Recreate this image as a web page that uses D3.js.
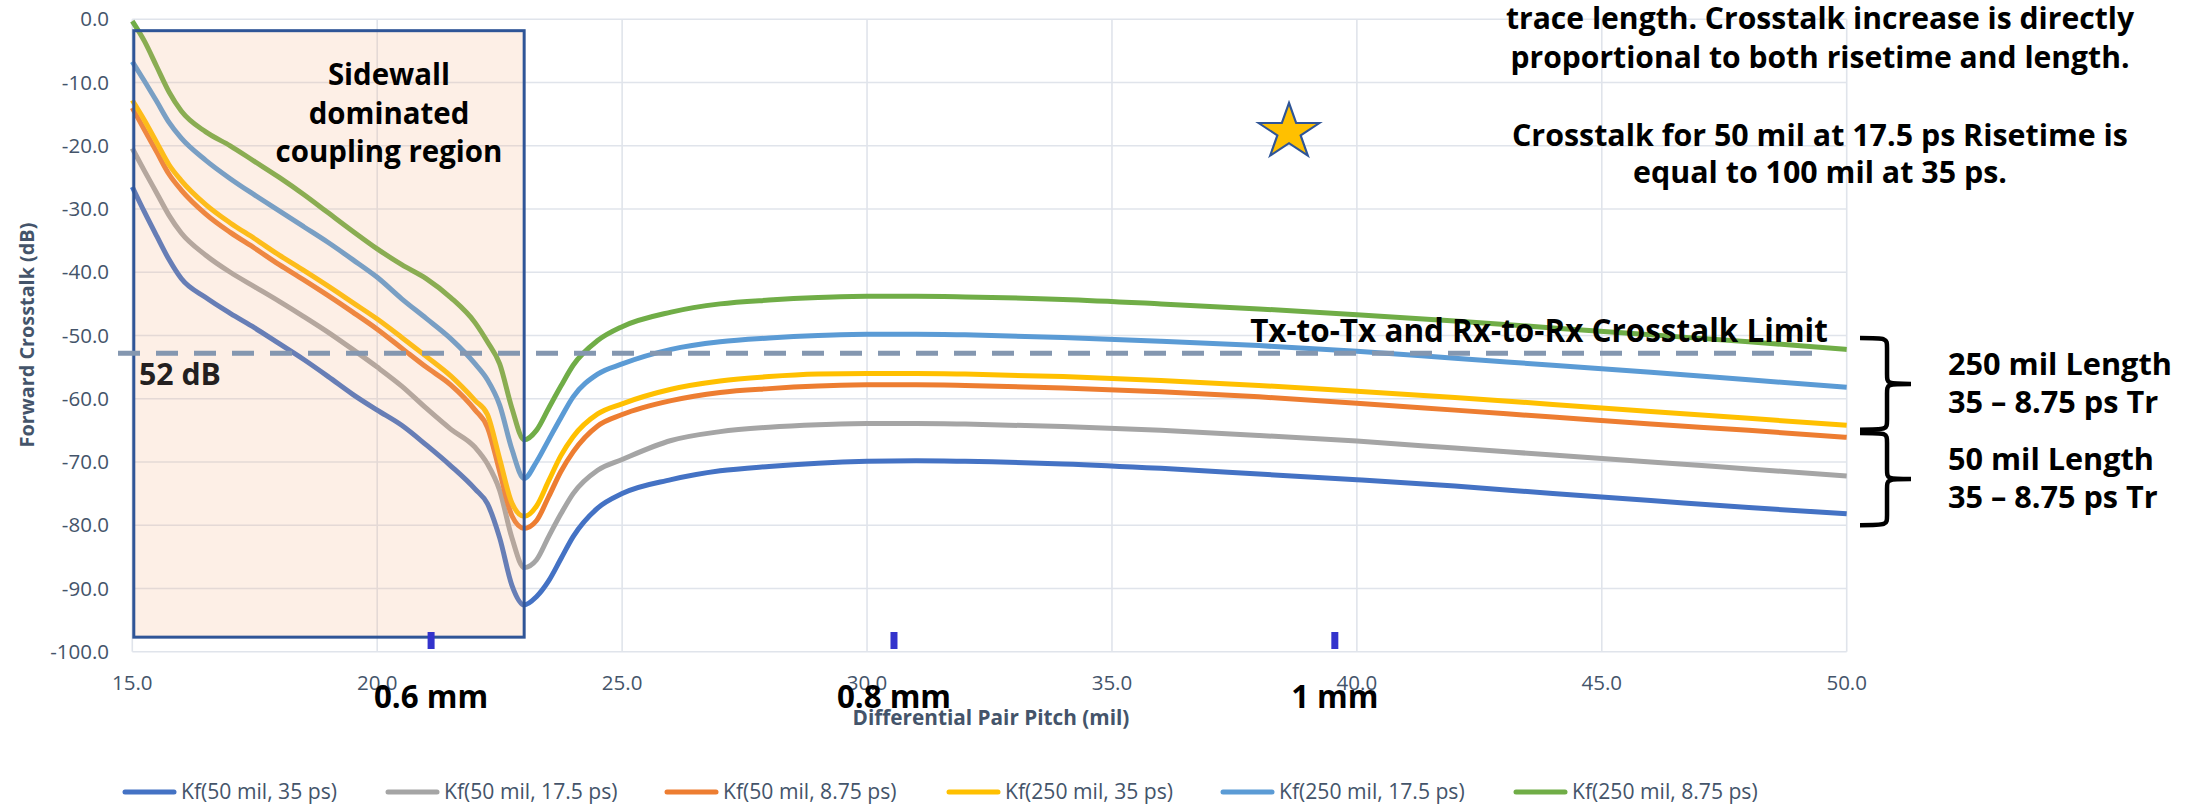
<!DOCTYPE html>
<html><head><meta charset="utf-8">
<script src="https://cdn.jsdelivr.net/npm/d3@7"></script>
<style>body{margin:0;background:#fff}svg{display:block}</style>
</head><body>
<script>
const pitch = [15,15.25,15.5,15.75,16,16.5,17,17.5,18,18.5,19,19.5,20,20.5,21,21.5,22,22.25,22.5,22.75,23,
  23.25,23.5,23.75,24,24.5,25,26,27,28,29,30,31,32,34,36,38,40,42,44,46,48,50];
const kf50_35 = [-26.5,-30.5,-34.3,-38,-41,-44,-46.5,-48.8,-51.3,-53.8,-56.5,-59.3,-61.8,-64.2,-67.3,-70.6,-74.3,-76.6,-82,-89.5,-92.6,
  -91.3,-88.8,-85.3,-81.8,-77.3,-75.0,-72.8,-71.4,-70.7,-70.2,-69.9,-69.8,-69.9,-70.3,-71.0,-71.9,-72.8,-73.8,-75.0,-76.1,-77.2,-78.2];
const kf50_17 = [-20.4,-24,-27.5,-31,-33.8,-37.3,-40,-42.3,-44.6,-47,-49.5,-52.2,-55,-58,-61.5,-64.8,-67.7,-70.3,-74.5,-82,-86.7,
  -85.5,-81.8,-78.2,-75,-71.3,-69.6,-66.6,-65.2,-64.5,-64.1,-63.9,-63.9,-64.0,-64.4,-65.0,-65.8,-66.7,-67.8,-68.9,-70.0,-71.1,-72.2];
const kf50_8 = [-14,-17.5,-21,-24.5,-27,-30.8,-33.7,-36.2,-38.8,-41.2,-43.7,-46.3,-49,-52,-55,-57.8,-61.8,-64.5,-71.5,-78.5,-80.5,
  -79.3,-75.5,-71.5,-68.4,-64.3,-62.5,-60.3,-59.0,-58.4,-58.0,-57.8,-57.8,-57.9,-58.3,-58.9,-59.7,-60.7,-61.8,-62.9,-64.0,-65.0,-66.1];
const kf250_35 = [-12.8,-16,-19.5,-23,-25.5,-29.3,-32.2,-34.7,-37.3,-39.7,-42.2,-44.8,-47.4,-50.3,-53.3,-56.4,-60.3,-62.5,-69.5,-76.5,-78.6,
  -77,-73,-69,-66,-62.4,-60.8,-58.5,-57.2,-56.5,-56.1,-56.0,-56.0,-56.1,-56.5,-57.1,-57.9,-58.8,-59.8,-60.9,-62.0,-63.1,-64.2];
const kf250_17 = [-6.7,-9.8,-13,-16.3,-18.8,-22.3,-25.2,-27.8,-30.3,-32.8,-35.3,-38,-40.8,-44.2,-47.3,-50.5,-54.5,-57,-61,-68,-72.6,
  -70,-66.5,-63,-59.7,-56.1,-54.5,-52.2,-51.0,-50.4,-50.0,-49.8,-49.8,-49.9,-50.3,-50.9,-51.6,-52.5,-53.6,-54.7,-55.8,-57.0,-58.2];
const kf250_8 = [-0.3,-3.5,-7.5,-11.5,-14.5,-17.8,-20,-22.5,-25,-27.7,-30.6,-33.5,-36.3,-38.8,-41,-44,-48,-51,-54.5,-61.5,-66.5,
  -65,-61.5,-58,-54.7,-50.8,-48.6,-46.3,-45.0,-44.4,-44.0,-43.8,-43.8,-43.9,-44.3,-45.0,-45.8,-46.7,-47.7,-48.8,-49.9,-51.0,-52.2];
const seriesNames = ["Kf(50 mil, 35 ps)","Kf(50 mil, 17.5 ps)","Kf(50 mil, 8.75 ps)","Kf(250 mil, 35 ps)","Kf(250 mil, 17.5 ps)","Kf(250 mil, 8.75 ps)"];
const seriesColors = ["#4472C4","#A5A5A5","#ED7D31","#FFC000","#5B9BD5","#70AD47"];
const xTicks = [15,20,25,30,35,40,45,50];
const yTicks = [0,-10,-20,-30,-40,-50,-60,-70,-80,-90,-100];
const limitDb = -52.8;
const regionX = [15, 23.0];
const regionY = [-1.8, -97.7];
const mmMarks = [21.1, 30.55, 39.55];
const mmLabels = ["0.6 mm","0.8 mm","1 mm"];
const braces = [[-50.4,-64.9],[-65.4,-80.0]];
const braceLabels = [["250 mil Length","35 \u2013 8.75 ps Tr"],["50 mil Length","35 \u2013 8.75 ps Tr"]];
const topNote = ["trace length.  Crosstalk increase is directly","proportional to both risetime and length."];
const midNote = ["Crosstalk for 50 mil at 17.5 ps Risetime is","equal to 100 mil at 35 ps."];

const W=2200,H=804;
const svg=d3.select("body").append("svg").attr("width",W).attr("height",H);
svg.append("rect").attr("width",W).attr("height",H).attr("fill","#fff");
const x=d3.scaleLinear().domain([15,50]).range([132.3,1846.7]);
const y=d3.scaleLinear().domain([-100,0]).range([651.7,19.3]);
const tickFont="'Open Sans', sans-serif", slate="#44546A";
const bold="'Open Sans', Lato, sans-serif";
// scale a text's font-size so that a reference node reaches the target width
function fit(textSel, refNode, target){
  const w=refNode.getComputedTextLength(); const fs=+textSel.attr("font-size");
  if(w>0) textSel.attr("font-size", (fs*target/w).toFixed(2));
}
function block(lines, cx, y0, lh, anchor, refIdx, target, fs){
  const t=svg.append("text").attr("text-anchor",anchor).attr("font-family",bold).attr("font-weight",700)
    .attr("font-size",fs).attr("fill","#000");
  const sp=lines.map((s,i)=>t.append("tspan").attr("x",cx).attr("y",y0+i*lh).attr("dy","0.35em").text(s));
  fit(t, sp[refIdx].node(), target);
  return t;
}

// grid
const g=svg.append("g");
g.selectAll("line.h").data(yTicks).join("line").attr("x1",x(15)).attr("x2",x(50))
  .attr("y1",d=>y(d)).attr("y2",d=>y(d)).attr("stroke","#E0E4EB").attr("stroke-width",1.6);
g.selectAll("line.v").data(xTicks).join("line").attr("y1",y(0)).attr("y2",y(-100))
  .attr("x1",d=>x(d)).attr("x2",d=>x(d)).attr("stroke","#E0E4EB").attr("stroke-width",1.6);
g.selectAll("text.y").data(yTicks).join("text").attr("x",109).attr("y",d=>y(d)).attr("dy","0.35em")
  .attr("text-anchor","end").attr("font-family",tickFont).attr("font-size",20.5).attr("fill",slate).text(d=>d.toFixed(1));
g.selectAll("text.x").data(xTicks).join("text").attr("x",d=>x(d)).attr("y",683).attr("dy","0.35em")
  .attr("text-anchor","middle").attr("font-family",tickFont).attr("font-size",20.5).attr("fill",slate).text(d=>d.toFixed(1));

// series
const line=d3.line().x((d,i)=>x(pitch[i])).y(d=>y(d)).curve(d3.curveMonotoneX);
const allSeries=[kf50_35,kf50_17,kf50_8,kf250_35,kf250_17,kf250_8];
svg.append("g").selectAll("path").data(allSeries).join("path").attr("d",line)
  .attr("fill","none").attr("stroke",(d,i)=>seriesColors[i]).attr("stroke-width",5).attr("stroke-linejoin","round");

// shaded region
svg.append("rect").attr("x",x(regionX[0])+1.5).attr("y",y(regionY[0])).attr("width",x(regionX[1])-x(regionX[0])-1.5)
  .attr("height",y(regionY[1])-y(regionY[0])).attr("fill","#F4B183").attr("fill-opacity",0.2)
  .attr("stroke","#2F5597").attr("stroke-width",3);
block(["Sidewall","dominated","coupling region"], 389, 75, 38.5, "middle", 2, 227, 30);

// limit line
svg.append("line").attr("x1",118).attr("x2",1815).attr("y1",y(limitDb)).attr("y2",y(limitDb))
  .attr("stroke","#8497B0").attr("stroke-width",5).attr("stroke-dasharray","22,16");
const db=block(["52 dB"], 139, 374, 0, "start", 0, 82, 26); db.attr("fill","#231F20");
block(["Tx-to-Tx and Rx-to-Rx Crosstalk Limit"], 1539, 331, 0, "middle", 0, 578, 26);

// mm markers
svg.selectAll("rect.mk").data(mmMarks).join("rect").attr("x",d=>x(d)-3.5).attr("y",632).attr("width",7).attr("height",17).attr("fill","#3333CC");
const mmT=mmLabels.map((s,i)=>block([s], x(mmMarks[i]), 697, 0, "middle", 0, 1, 28));
fit(mmT[0], mmT[0].select("tspan").node(), 114); mmT.forEach(t=>t.attr("font-size", mmT[0].attr("font-size")));

// notes
block(topNote, 1820, 18, 39, "middle", 0, 628, 26);
block(midNote, 1820, 135, 37, "middle", 0, 616, 26);

// star
const star=d3.symbol().type(d3.symbolStar).size(950);
svg.append("path").attr("d",star()).attr("transform","translate(1289,132) scale(1.1,1)").attr("fill","#FFC000").attr("stroke","#2F5597").attr("stroke-width",2);

// braces
function bracePath(x0,y1,y2,w){const xs=x0+w*0.53,xm=x0+w,ym=(y1+y2)/2,r=10;
  return `M${x0},${y1} C${xs},${y1} ${xs},${y1} ${xs},${y1+r} L${xs},${ym-r} C${xs},${ym} ${xs},${ym} ${xm},${ym} C${xs},${ym} ${xs},${ym} ${xs},${ym+r} L${xs},${y2-r} C${xs},${y2} ${xs},${y2} ${x0},${y2}`;}
svg.selectAll("path.br").data(braces).join("path").attr("d",d=>bracePath(1860,y(d[0]),y(d[1]),51))
  .attr("fill","none").attr("stroke","#000").attr("stroke-width",4.5);
braces.forEach((d,i)=>{const ym=(y(d[0])+y(d[1]))/2;
  block(braceLabels[i], 1948, ym-20, 38, "start", 0, i===0?224:206, 26);});

// axis titles
const yt=svg.append("text").attr("transform","translate(27,335) rotate(-90)").attr("text-anchor","middle").attr("dy","0.35em")
  .attr("font-family",tickFont).attr("font-weight",700).attr("font-size",17).attr("fill",slate).text("Forward Crosstalk (dB)");
fit(yt, yt.node(), 225);
const xt=svg.append("text").attr("x",991).attr("y",718).attr("dy","0.35em").attr("text-anchor","middle")
  .attr("font-family",tickFont).attr("font-weight",700).attr("font-size",17).attr("fill",slate).text("Differential Pair  Pitch (mil)");
fit(xt, xt.node(), 277);

// legend
const legX=[123,386,665,947,1221,1514];
const lg=svg.append("g").selectAll("g").data(seriesNames).join("g").attr("transform",(d,i)=>`translate(${legX[i]},792)`);
lg.append("line").attr("x1",2).attr("x2",51).attr("stroke",(d,i)=>seriesColors[i]).attr("stroke-width",5).attr("stroke-linecap","round");
const lt=lg.append("text").attr("x",58).attr("dy","0.35em").attr("font-family",tickFont).attr("font-size",18.5).attr("fill",slate).text(d=>d);
const lw=lt.nodes()[0].getComputedTextLength(); lt.attr("font-size",(18.5*156/lw).toFixed(2));
</script>
</body></html>
